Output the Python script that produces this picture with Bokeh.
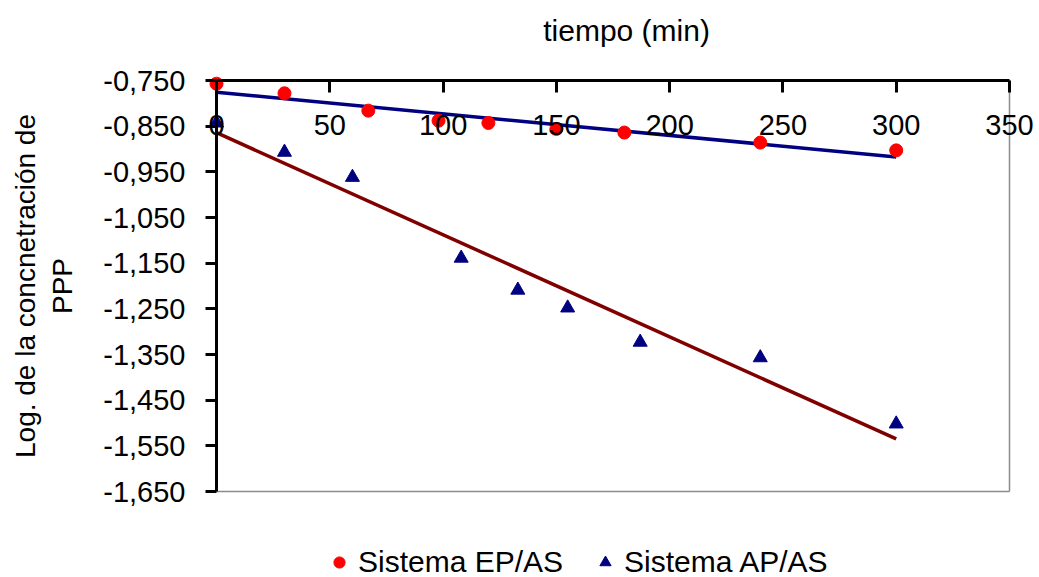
import numpy as np
from bokeh.plotting import figure
from bokeh.models import Range1d, FixedTicker, Legend, LegendItem, LinearAxis, Label
from bokeh.embed import file_html
from bokeh.resources import INLINE

# Sistema EP/AS
t_ep = [0, 30, 67, 98, 120, 150, 180, 240, 300]
log_ep = [-0.757, -0.778, -0.816, -0.838, -0.843, -0.856, -0.864, -0.886, -0.903]

# Sistema AP/AS
t_ap = [0, 30, 60, 108, 133, 155, 187, 240, 300]
log_ap = [-0.843, -0.907, -0.962, -1.139, -1.209, -1.248, -1.323, -1.357, -1.502]

x_ticks = [0, 50, 100, 150, 200, 250, 300, 350]
y_ticks = [-0.75, -0.85, -0.95, -1.05, -1.15, -1.25, -1.35, -1.45, -1.55, -1.65]
y_tick_labels = ["-0,750", "-0,850", "-0,950", "-1,050", "-1,150",
                 "-1,250", "-1,350", "-1,450", "-1,550", "-1,650"]

FONT = "Liberation Sans"
X_MIN, X_MAX = x_ticks[0], x_ticks[-1]
Y_MIN, Y_MAX = y_ticks[-1], y_ticks[0]

# The frame covers the whole canvas so markers on the axes are not clipped;
# the axes sit at fixed data locations inside it.
W, H = 1039, 577
PX_LEFT, PX_RIGHT, PX_TOP, PX_BOTTOM = 216, 1009, 80, 491
sx = (PX_RIGHT - PX_LEFT) / (X_MAX - X_MIN)
sy = (PX_BOTTOM - PX_TOP) / (Y_MAX - Y_MIN)
x_range = Range1d(X_MIN - PX_LEFT / sx, X_MAX + (W - PX_RIGHT) / sx)
y_range = Range1d(Y_MIN - (H - PX_BOTTOM) / sy, Y_MAX + PX_TOP / sy)

p = figure(width=W, height=H, x_range=x_range, y_range=y_range,
           output_backend="svg", toolbar_location=None,
           x_axis_location=None, y_axis_location=None,
           min_border=0, outline_line_color=None)
p.grid.visible = False
p.background_fill_color = "white"
p.border_fill_color = "white"

# plot area border (right and bottom)
p.segment(x0=[X_MAX, X_MIN], y0=[Y_MIN, Y_MIN], x1=[X_MAX, X_MAX], y1=[Y_MAX, Y_MIN],
          line_color="#8c8c8c", line_width=1.5)

# x axis along the top of the plot area, labels hanging below it
xa = LinearAxis(fixed_location=Y_MAX, bounds=(X_MIN, X_MAX),
                ticker=FixedTicker(ticks=x_ticks))
xa.major_tick_out = 12
xa.major_tick_in = 0
xa.minor_tick_line_color = None
xa.axis_line_width = 3
xa.major_tick_line_width = 3
xa.major_label_standoff = 22
xa.major_label_text_font = FONT
xa.major_label_text_font_size = "29px"
xa.major_label_text_color = "black"
p.add_layout(xa, "below")

ya = LinearAxis(fixed_location=X_MIN, bounds=(Y_MIN, Y_MAX),
                ticker=FixedTicker(ticks=y_ticks))
ya.major_label_overrides = dict(zip(y_ticks, y_tick_labels))
ya.major_tick_out = 11
ya.major_tick_in = 0
ya.minor_tick_line_color = None
ya.axis_line_width = 3
ya.major_tick_line_width = 3
ya.major_label_standoff = 20
ya.major_label_text_font = FONT
ya.major_label_text_font_size = "29px"
ya.major_label_text_color = "black"
ya.axis_label = "Log. de la concnetración de\nPPP"
ya.axis_label_text_font = FONT
ya.axis_label_text_font_size = "28px"
ya.axis_label_text_font_style = "normal"
ya.axis_label_text_color = "black"
ya.axis_label_standoff = 22
p.add_layout(ya, "left")

p.add_layout(Label(x=181, y=-0.6405, text="tiempo (min)", text_align="center",
                   text_baseline="middle", text_font=FONT, text_font_size="30px",
                   text_color="black"))

# linear trend lines (least squares) over the measured time span
fit_ep = np.polyfit(t_ep, log_ep, 1)
fit_ap = np.polyfit(t_ap, log_ap, 1)
span = [min(t_ep), max(t_ep)]
p.line(span, np.polyval(fit_ep, span), line_color="#000080", line_width=3.5)
p.line(span, np.polyval(fit_ap, span), line_color="#800000", line_width=3.5)

r_ep = p.scatter(t_ep, log_ep, marker="circle", size=13,
                 fill_color="#FF0000", line_color="#FF0000")
r_ap = p.scatter(t_ap, log_ap, marker="triangle", size=14,
                 fill_color="#000080", line_color="#000080")

legend = Legend(items=[LegendItem(label="Sistema EP/AS", renderers=[r_ep]),
                       LegendItem(label="Sistema AP/AS", renderers=[r_ap])],
                orientation="horizontal", location=(325, -2),
                padding=0, margin=0, spacing=28,
                glyph_width=28, glyph_height=28, label_standoff=5,
                border_line_color=None, background_fill_alpha=0,
                label_text_font=FONT, label_text_font_size="30px",
                label_text_color="black")
p.add_layout(legend, "center")

open("out.html", "w").write(file_html(p, INLINE))
